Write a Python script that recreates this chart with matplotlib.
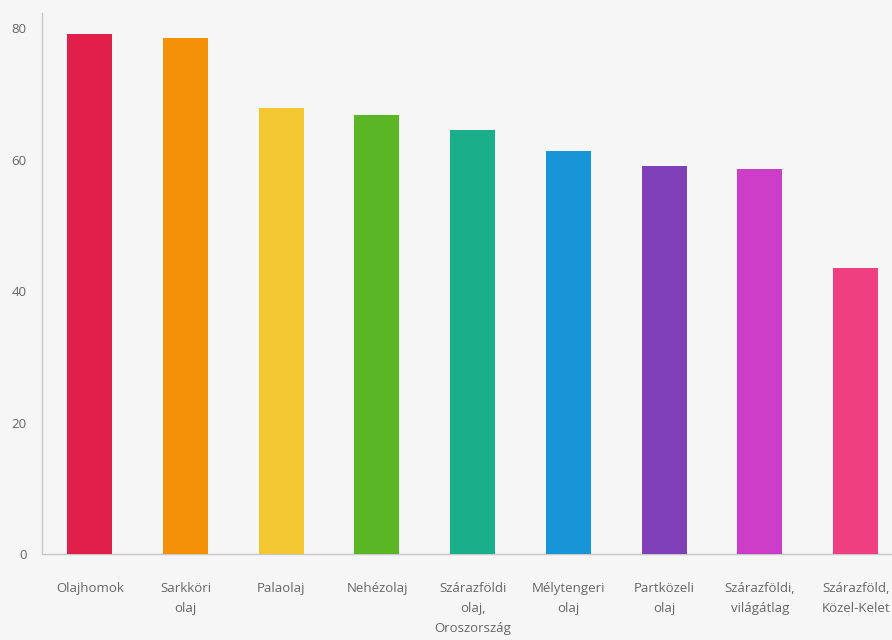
import matplotlib
matplotlib.use("Agg")
import matplotlib.pyplot as plt

categories = ["Olajhomok", "Sarkköri\nolaj", "Palaolaj", "Nehézolaj",
              "Szárazföldi\nolaj,\nOroszország", "Mélytengeri\nolaj",
              "Partközeli\nolaj", "Szárazföldi,\nvilágátlag",
              "Szárazföld,\nKözel-Kelet"]
values = [79.1, 78.5, 67.8, 66.8, 64.5, 61.3, 59.0, 58.6, 43.5]
colors = ["#e0204a", "#f39208", "#f2c730", "#5bb625", "#1aaf8a",
          "#1795d6", "#8040b8", "#cc3dc8", "#f03f80"]
yticks = [0, 20, 40, 60, 80]

plt.rcParams['font.family'] = ['Open Sans', 'DejaVu Sans']

bg = "#f6f6f6"
fig = plt.figure(figsize=(8.92, 6.4), dpi=100, facecolor=bg)
ax = fig.add_axes([0.047, 0.134, 0.953, 0.846])
ax.set_facecolor(bg)

x = list(range(len(categories)))
ax.bar(x, values, width=0.47, color=colors, zorder=3)

ax.set_xlim(-0.5, 8.38)
ax.set_ylim(0, 82.3)
ax.set_yticks(yticks)
ax.set_xticks(x)
ax.set_xticklabels(categories, linespacing=1.7)

for s in ["top", "right"]:
    ax.spines[s].set_visible(False)
for s in ["left", "bottom"]:
    ax.spines[s].set_color("#c8c8c8")
    ax.spines[s].set_linewidth(1)

ax.tick_params(axis="both", length=0, colors="#666666", labelsize=9.5)
ax.tick_params(axis="x", pad=20)
ax.tick_params(axis="y", pad=11)

fig.savefig("out.png", dpi=100, facecolor=bg)
